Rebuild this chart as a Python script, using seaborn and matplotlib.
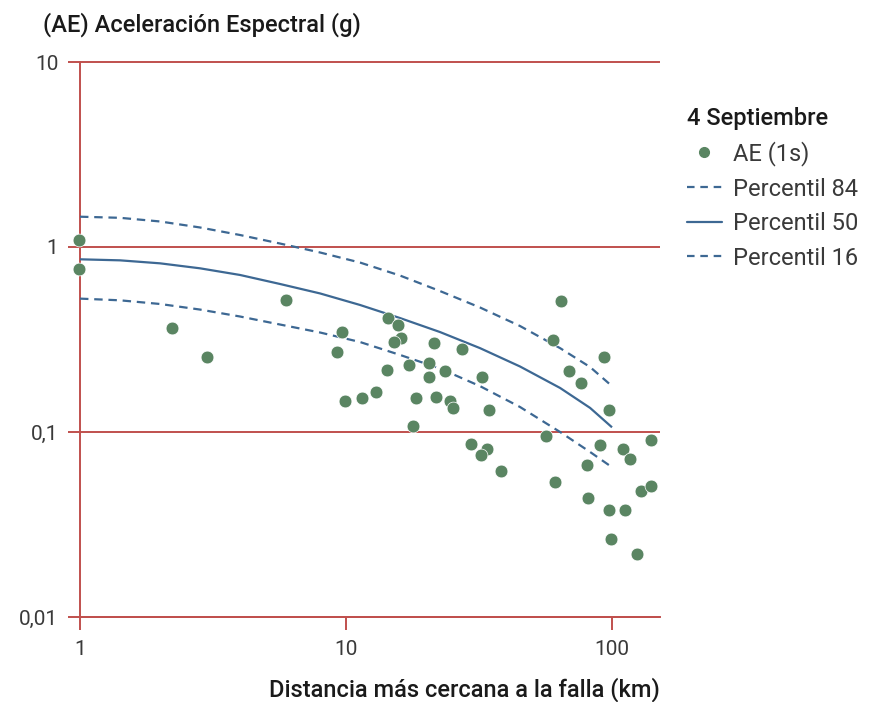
import numpy as np
import pandas as pd
import matplotlib
matplotlib.use("Agg")
import matplotlib.pyplot as plt
from matplotlib.lines import Line2D
from matplotlib.legend_handler import HandlerLine2D
from matplotlib.ticker import FixedLocator, FixedFormatter, NullLocator
import seaborn as sns

# ---------------- data ----------------
obs_dist = [0.99, 0.99, 2.21, 3.01, 5.93, 9.69, 9.25, 9.91, 11.5, 12.97,
            14.4, 15.7, 16.1, 15.1, 21.4, 27.2, 17.3, 20.6, 14.3, 23.5,
            20.6, 32.5, 18.4, 21.7, 24.7, 25.3, 34.4, 17.8, 29.5, 33.8,
            32.1, 38.2, 64.3, 60.2, 93.6, 69.1, 76.3, 97.4, 56.6, 89.9,
            109.7, 117.2, 139.8, 80.5, 61.1, 128.5, 140.2, 81.5, 97.7, 111.9,
            99.4, 124.2]
obs_ae = [1.091, 0.757, 0.365, 0.255, 0.517, 0.348, 0.272, 0.148, 0.153, 0.165,
          0.412, 0.377, 0.323, 0.305, 0.302, 0.281, 0.229, 0.235, 0.216, 0.2145,
          0.198, 0.199, 0.152, 0.155, 0.148, 0.135, 0.131, 0.108, 0.0861, 0.0809,
          0.0751, 0.0615, 0.511, 0.313, 0.255, 0.2145, 0.185, 0.132, 0.0955, 0.0855,
          0.0807, 0.0715, 0.0905, 0.0661, 0.0537, 0.0482, 0.0509, 0.0438, 0.0377, 0.0377,
          0.0264, 0.0219]

curve_dist = [1.0, 1.414, 2.0, 2.826, 3.996, 5.65, 7.99, 11.29, 15.96, 22.56,
              31.9, 45.1, 63.8, 82.7, 100.0]
p84_ae = [1.458, 1.438, 1.374, 1.275, 1.161, 1.044, 0.934, 0.824, 0.701, 0.578,
          0.471, 0.374, 0.284, 0.2245, 0.177]
p50_ae = [0.858, 0.847, 0.816, 0.767, 0.706, 0.631, 0.561, 0.486, 0.413, 0.347,
          0.284, 0.226, 0.173, 0.135, 0.106]
p16_ae = [0.526, 0.515, 0.492, 0.459, 0.421, 0.381, 0.345, 0.3065, 0.261, 0.2204,
          0.177, 0.1365, 0.100, 0.078, 0.0645]

y_ticks = [0.01, 0.1, 1, 10]
y_tick_labels = ["0,01", "0,1", "1", "10"]
x_ticks = [1, 10, 100]
x_tick_labels = ["1", "10", "100"]

legend_title = "4 Septiembre"
legend_labels = ["AE (1s)", "Percentil 84", "Percentil 50", "Percentil 16"]

# ---------------- style ----------------
sns.set_style("white")
FAM = ["Roboto", "DejaVu Sans"]
plt.rcParams["font.family"] = FAM

RED = "#c0504d"
GREEN = "#5a8562"
BLUE = "#3d6893"
TXT = "#1a1a1a"
TICK_TXT = "#3a3a3a"

fig = plt.figure(figsize=(8.69, 7.02), dpi=100)
ax = fig.add_axes([80 / 869, 85 / 702, 580 / 869, 555 / 702])

obs = pd.DataFrame({"dist": obs_dist, "ae": obs_ae})
curves = pd.DataFrame({"dist": curve_dist, "p84": p84_ae, "p50": p50_ae, "p16": p16_ae})

ax.set_xscale("log")
ax.set_yscale("log")
ax.set_xlim(1, 151.5)
ax.set_ylim(0.01, 10)

for yv in y_ticks:
    ax.axhline(yv, color=RED, lw=1.4, clip_on=False, zorder=1)

DASH = (3.8, 2.6)
sns.lineplot(data=curves, x="dist", y="p84", ax=ax, color=BLUE, lw=1.6, zorder=3)
ax.lines[-1].set_dashes(DASH)
sns.lineplot(data=curves, x="dist", y="p50", ax=ax, color=BLUE, lw=1.6, zorder=3)
sns.lineplot(data=curves, x="dist", y="p16", ax=ax, color=BLUE, lw=1.6, zorder=3)
ax.lines[-1].set_dashes(DASH)
for ln in ax.lines:
    ln.set_solid_capstyle("butt")
    ln.set_dash_capstyle("butt")

sns.scatterplot(data=obs, x="dist", y="ae", ax=ax, color=GREEN, s=85,
                edgecolor="white", linewidth=0.5, zorder=4, clip_on=False)

for sp in ["top", "right"]:
    ax.spines[sp].set_visible(False)
for sp in ["left", "bottom"]:
    ax.spines[sp].set_color(RED)
    ax.spines[sp].set_linewidth(1.4)
    ax.spines[sp].set_zorder(1)

ax.yaxis.set_major_locator(FixedLocator(y_ticks))
ax.yaxis.set_major_formatter(FixedFormatter(y_tick_labels))
ax.yaxis.set_minor_locator(NullLocator())
ax.xaxis.set_major_locator(FixedLocator(x_ticks))
ax.xaxis.set_major_formatter(FixedFormatter(x_tick_labels))
ax.xaxis.set_minor_locator(NullLocator())

ax.tick_params(axis="y", which="major", direction="out", length=8.6, width=1.4,
               color=RED, pad=7, labelsize=15, labelcolor=TICK_TXT, left=True)
ax.tick_params(axis="x", which="major", direction="out", length=9.4, width=1.4,
               color=RED, pad=7, labelsize=15, labelcolor=TICK_TXT, bottom=True)
for lab in ax.get_xticklabels() + ax.get_yticklabels():
    lab.set_fontweight("normal")

ax.set_xlabel("")
ax.set_ylabel("")
fig.text(43 / 869, 1 - 25 / 702, "(AE) Aceleración Espectral (g)", ha="left",
         va="center", fontsize=17, color=TXT, fontweight="medium")
fig.text(660 / 869, 1 - 690 / 702, "Distancia más cercana a la falla (km)",
         ha="right", va="center", fontsize=17, color=TXT, fontweight="medium")


class RightMarkerHandler(HandlerLine2D):
    def get_xdata(self, legend, xdescent, ydescent, width, height, fontsize):
        xdata, _ = super().get_xdata(legend, xdescent, ydescent, width, height, fontsize)
        return xdata, [-xdescent + 0.83 * width]


handles = [
    Line2D([], [], ls="none", marker="o", markersize=7, color=GREEN),
    Line2D([], [], color=BLUE, lw=1.6, dashes=(3.4, 2.6)),
    Line2D([], [], color=BLUE, lw=1.6),
    Line2D([], [], color=BLUE, lw=1.6, dashes=(3.4, 2.6)),
]
leg = fig.legend(handles, legend_labels, loc="upper left",
                 bbox_to_anchor=(670 / 869, 1 - 90 / 702), frameon=False,
                 title=legend_title, alignment="left",
                 fontsize=17, handlelength=1.5, handletextpad=0.45,
                 labelspacing=0.49, borderpad=0.2, numpoints=1,
                 handler_map={handles[0]: RightMarkerHandler()},
                 title_fontproperties={"size": 17, "weight": "medium",
                                       "family": FAM})
for t in leg.get_texts():
    t.set_color(TICK_TXT)
    t.set_fontweight("normal")
leg.get_title().set_color(TXT)

fig.savefig("out.png", dpi=100)
